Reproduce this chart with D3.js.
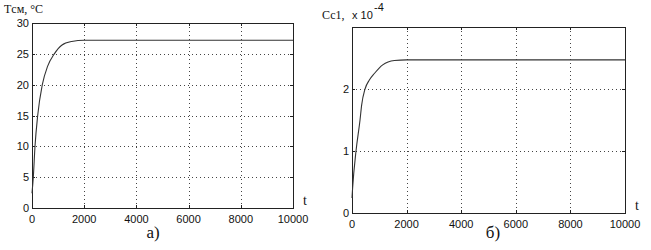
<!DOCTYPE html>
<html><head><meta charset="utf-8">
<script src="https://cdn.jsdelivr.net/npm/d3@7"></script>
<style>body{margin:0;background:#fff}svg{display:block}</style>
</head><body>
<svg id="c" width="651" height="250"></svg>
<script>
// Panel a) : mixture temperature
const tA = [0, 50, 115, 218, 395, 600, 855, 1138, 1520, 2000, 10000];
const vA = [2.4, 5, 10, 15, 20, 23, 25, 26.4, 27, 27.2, 27.2];
const yTicksA = [0, 5, 10, 15, 20, 25, 30];
// Panel б) : concentration (x 10^-4)
const tB = [0, 22, 147, 294, 353, 477, 635, 819, 1124, 1553, 2000, 10000];
const vB = [0.24, 0.4, 1.0, 1.5, 1.74, 2.0, 2.145, 2.25, 2.39, 2.46, 2.47, 2.47];
const yTicksB = [0, 1, 2];
const xTicks = [0, 2000, 4000, 6000, 8000, 10000];

const svg = d3.select("#c");

function panel(o) {
  const x = d3.scaleLinear().domain([0, 10000]).range([o.x0, o.x1]);
  const y = d3.scaleLinear().domain(o.yDom).range([o.y0, o.y1]);
  const g = svg.append("g");
  // grid
  g.selectAll(".gx").data(xTicks.slice(1, -1)).join("line")
    .attr("x1", d => Math.round(x(d)) + 0.5).attr("x2", d => Math.round(x(d)) + 0.5)
    .attr("y1", o.y1).attr("y2", o.y0)
    .attr("stroke", "#444").attr("stroke-dasharray", "1,3");
  g.selectAll(".gy").data(o.grid).join("line")
    .attr("y1", d => Math.round(y(d)) + 0.5).attr("y2", d => Math.round(y(d)) + 0.5)
    .attr("x1", o.x0).attr("x2", o.x1)
    .attr("stroke", "#444").attr("stroke-dasharray", "1,3");
  // box
  g.append("rect").attr("x", o.x0 + 0.5).attr("y", o.y1 + 0.5)
    .attr("width", o.x1 - o.x0).attr("height", o.y0 - o.y1)
    .attr("fill", "none").attr("stroke", "#222");
  // inward ticks
  const tk = 3;
  xTicks.forEach(d => {
    const xx = Math.round(x(d)) + 0.5;
    g.append("line").attr("x1", xx).attr("x2", xx).attr("y1", o.y0).attr("y2", o.y0 - tk).attr("stroke", "#222");
    g.append("line").attr("x1", xx).attr("x2", xx).attr("y1", o.y1).attr("y2", o.y1 + tk).attr("stroke", "#222");
  });
  o.grid.concat(o.yTicks).forEach(d => {
    const yy = Math.round(y(d)) + 0.5;
    g.append("line").attr("y1", yy).attr("y2", yy).attr("x1", o.x0).attr("x2", o.x0 + tk).attr("stroke", "#222");
    g.append("line").attr("y1", yy).attr("y2", yy).attr("x1", o.x1).attr("x2", o.x1 - tk).attr("stroke", "#222");
  });
  // tick labels
  g.selectAll(".xl").data(xTicks).join("text")
    .attr("x", d => x(d)).attr("y", o.y0 + 15)
    .attr("text-anchor", "middle").attr("font-family", "Liberation Sans, Arial")
    .attr("font-size", 11).attr("fill", "#111").text(d => d);
  g.selectAll(".yl").data(o.yTicks).join("text")
    .attr("x", o.x0 - 3).attr("y", d => y(d) + 4)
    .attr("text-anchor", "end").attr("font-family", "Liberation Sans, Arial")
    .attr("font-size", 11).attr("fill", "#111").text(d => d);
  // curve
  const line = d3.line().x(d => x(d[0])).y(d => y(d[1])).curve(d3.curveMonotoneX);
  g.append("path").datum(o.t.map((t, i) => [t, o.v[i]]))
    .attr("d", line).attr("fill", "none").attr("stroke", "#333").attr("stroke-width", 1.1);
  // t label
  g.append("text").attr("x", o.x1 + 10).attr("y", o.y0 - 3)
    .attr("font-family", "Liberation Serif, Times New Roman").attr("font-size", 14).attr("fill", "#111").text("t");
  return {x, y};
}

panel({x0: 32, x1: 293, y0: 208, y1: 23, yDom: [0, 30], t: tA, v: vA,
       yTicks: yTicksA, grid: [5, 10, 15, 20, 25]});
panel({x0: 352, x1: 625, y0: 213, y1: 27, yDom: [0, 3], t: tB, v: vB,
       yTicks: yTicksB, grid: [1, 2]});

const serif = "Liberation Serif, Times New Roman";
svg.append("text").attr("x", 4).attr("y", 13).attr("font-family", serif)
  .attr("font-size", 12).attr("fill", "#111").text("Tсм, °С");
svg.append("text").attr("x", 322).attr("y", 19).attr("font-family", serif)
  .attr("font-size", 12).attr("fill", "#111").text("Сс1,");
svg.append("text").attr("x", 352).attr("y", 19).attr("font-family", "Liberation Sans, Arial")
  .attr("font-size", 11).attr("fill", "#111").text("x 10");
svg.append("text").attr("x", 374).attr("y", 11).attr("font-family", "Liberation Sans, Arial")
  .attr("font-size", 11).attr("fill", "#111").text("-4");
svg.append("text").attr("x", 153).attr("y", 238).attr("text-anchor", "middle").attr("font-family", serif)
  .attr("font-size", 17).attr("fill", "#111").text("а)");
svg.append("text").attr("x", 493).attr("y", 238).attr("text-anchor", "middle").attr("font-family", serif)
  .attr("font-size", 17).attr("fill", "#111").text("б)");
</script>
</body></html>
